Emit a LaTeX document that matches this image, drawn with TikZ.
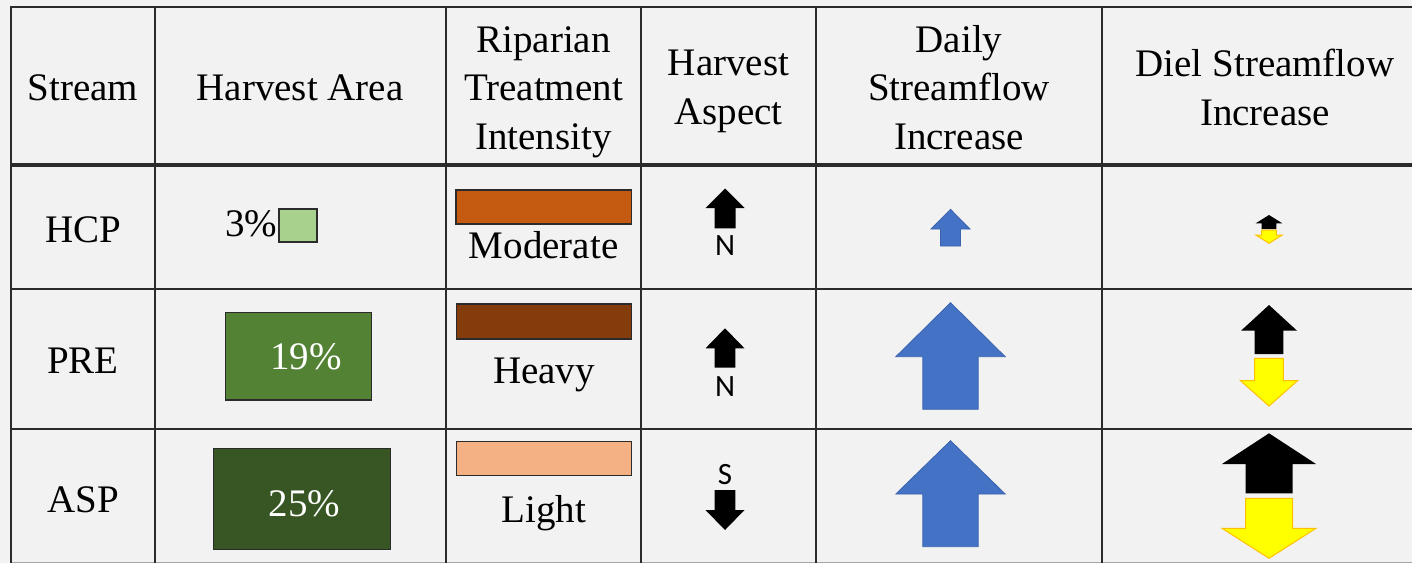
\documentclass[tikz,border=0pt]{standalone}
\usepackage{fontspec}
\setmainfont{Liberation Serif}
\newfontfamily\compassfont{Carlito}

\definecolor{pagebg}{HTML}{F2F2F2}
\definecolor{rule}{HTML}{2B2B2B}
\definecolor{flowblue}{HTML}{4472C4}
\definecolor{flowblueedge}{HTML}{3A63AE}
\definecolor{dielyellow}{HTML}{FFFF00}
\definecolor{dieledge}{HTML}{FFC000}
\definecolor{moderate}{HTML}{C55A11}
\definecolor{heavy}{HTML}{843C0C}
\definecolor{light}{HTML}{F4B183}
\definecolor{greenA}{HTML}{A9D18E}
\definecolor{greenB}{HTML}{548235}
\definecolor{greenC}{HTML}{375623}

% block arrow: style, centre x, tip y, head-base y, tail y, half head width, half shaft width
\newcommand{\blockarrow}[7]{%
  \path[#1] (#2,#3) -- ({#2+#6},#4) -- ({#2+#7},#4) -- ({#2+#7},#5)
    -- ({#2-#7},#5) -- ({#2-#7},#4) -- ({#2-#6},#4) -- cycle;}

\begin{document}
\begin{tikzpicture}[x=1pt,y=-1pt,
  gridline/.style={draw=rule, line width=2pt},
  txt/.style={anchor=base, inner sep=0pt, font=\fontsize{39}{46}\selectfont},
  compass/.style={anchor=base, inner sep=0pt, font=\compassfont\fontsize{31}{36}\selectfont},
  swatch/.style={draw=rule, line width=1.2pt, inner sep=0pt},
  aspectarrow/.style={fill=black},
  dailyarrow/.style={fill=flowblue, draw=flowblueedge, line width=0.8pt},
  upper/.style={fill=black},
  lower/.style={fill=dielyellow, draw=dieledge, line width=1pt, line join=miter},
]
\useasboundingbox (0,0) rectangle (1412,563);
\clip (0,0) rectangle (1412,563);
\fill[pagebg] (0,0) rectangle (1412,563);

% table rules
\draw[gridline] (11,7) -- (1430,7);
\draw[draw=rule, line width=3.5pt] (11,165) -- (1430,165);
\draw[gridline] (11,289) -- (1430,289);
\draw[gridline] (11,429) -- (1430,429);
\draw[draw=black!35, line width=1.6pt] (11,562.4) -- (1430,562.4);
\foreach \xx in {11,155,446,641,816,1102}
  \draw[gridline] (\xx,6) -- (\xx,563);

% header row
\node[txt] (hStream) at (83,100) {Stream};
\node[txt] (hArea) at (300,100) {Harvest Area};
\node[txt] (hRipA) at (543.5,52) {Riparian};
\node[txt] (hRipB) at (543.5,100.5) {Treatment};
\node[txt] (hRipC) at (543.5,149) {Intensity};
\node[txt] (hAspA) at (728.5,75.5) {Harvest};
\node[txt] (hAspB) at (728.5,124.5) {Aspect};
\node[txt] (hDayA) at (959,52) {Daily};
\node[txt] (hDayB) at (959,100.5) {Streamflow};
\node[txt] (hDayC) at (959,149) {Increase};
\node[txt] (hDielA) at (1265,76) {Diel Streamflow};
\node[txt] (hDielB) at (1265,125) {Increase};

% stream names
\node[txt] (sHCP) at (83,242) {HCP};
\node[txt] (sPRE) at (83,373) {PRE};
\node[txt] (sASP) at (83,512) {ASP};

% harvest area
\node[swatch, fill=greenA, minimum width=38pt, minimum height=33pt] (aHCP) at (298,225.5) {};
\node[txt, anchor=base east] (pHCP) at (277.5,236) {3\%};
\node[swatch, fill=greenB, minimum width=145.6pt, minimum height=87.7pt] (aPRE) at (298.4,356.2) {};
\node[txt, text=white] (pPRE) at (306,369) {19\%};
\node[swatch, fill=greenC, minimum width=176.4pt, minimum height=101pt] (aASP) at (302,498.8) {};
\node[txt, text=white] (pASP) at (304.7,516) {25\%};

% riparian treatment intensity
\node[swatch, fill=moderate, minimum width=175.5pt, minimum height=34pt] (rHCP) at (543.8,207) {};
\node[txt] (tHCP) at (543.7,258.3) {Moderate};
\node[swatch, fill=heavy, minimum width=175pt, minimum height=35pt] (rPRE) at (544,321.5) {};
\node[txt] (tPRE) at (544,383.3) {Heavy};
\node[swatch, fill=light, minimum width=175pt, minimum height=34pt] (rASP) at (543.8,458.7) {};
\node[txt] (tASP) at (543.8,522.3) {Light};

% harvest aspect
\blockarrow{aspectarrow}{725}{188.5}{208}{228.3}{19.5}{10.5}
\node[compass] (nHCP) at (725,255.5) {N};
\blockarrow{aspectarrow}{725}{328.3}{348.3}{367.7}{19.5}{10.4}
\node[compass] (nPRE) at (725,396) {N};
\node[compass] (nASP) at (725,484) {S};
\blockarrow{aspectarrow}{725}{530}{510}{490}{19.5}{10.4}

% daily streamflow increase
\blockarrow{dailyarrow}{950.5}{209.3}{229}{246}{19.5}{10}
\blockarrow{dailyarrow}{950.5}{302.7}{356.7}{409.3}{54.7}{27.7}
\blockarrow{dailyarrow}{950.5}{440.7}{494}{546.7}{54.7}{27.7}

% diel streamflow increase
\blockarrow{upper}{1269}{215}{223.3}{229}{13.3}{7.4}
\blockarrow{lower}{1269}{243.3}{235}{230}{13.3}{7.4}
\blockarrow{upper}{1269}{305}{330.7}{354}{28}{14.3}
\blockarrow{lower}{1269}{406}{380.7}{358.3}{28.5}{14.3}
\blockarrow{upper}{1269}{433.3}{464}{493.3}{47}{23.5}
\blockarrow{lower}{1269}{558.3}{528.3}{498.3}{47}{23.5}
\end{tikzpicture}
\end{document}
